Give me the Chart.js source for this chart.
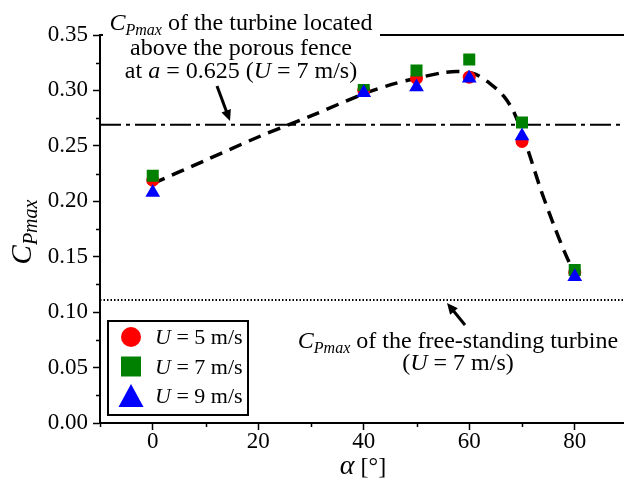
<!DOCTYPE html>
<html>
<head>
<meta charset="utf-8">
<script src="https://cdn.jsdelivr.net/npm/chart.js@4.4.1/dist/chart.umd.min.js"></script>
<style>
  html, body { margin: 0; padding: 0; background: #fff; overflow: hidden; }
  canvas { display: block; }
</style>
</head>
<body>
<canvas id="chart" width="636" height="489"></canvas>
<script>
// measured points
const alphaDeg = [0, 40, 50, 60, 70, 80];
const cpU5 = [0.219, 0.300, 0.311, 0.312, 0.254, 0.136];
const cpU7 = [0.223, 0.305, 0.318, 0.328, 0.271, 0.138];
const cpU9 = [0.208, 0.298, 0.303, 0.311, 0.259, 0.132];
// dashed fitted curve
const fitAlpha = [0, 10, 20, 30, 40, 45, 50, 55, 58, 61, 64, 66.5, 68.5, 71, 73.6, 76, 78, 80];
const fitCp = [0.216, 0.237, 0.258, 0.277, 0.297, 0.305, 0.311, 0.316, 0.317, 0.315, 0.306, 0.295, 0.280, 0.248, 0.210, 0.179, 0.155, 0.134];
// reference levels
const cpFence = 0.269;
const cpFree = 0.111;
const xTicks = [0, 20, 40, 60, 80];
const xMinor = [-10, 10, 30, 50, 70, 90];
const yTicks = [0, 0.05, 0.10, 0.15, 0.20, 0.25, 0.30, 0.35];
const yMinor = [0.025, 0.075, 0.125, 0.175, 0.225, 0.275, 0.325];
const legendLabels = ['5', '7', '9'];

const SERIF = "'Liberation Serif', 'DejaVu Serif', serif";

function pts(xs, ys) {
  return xs.map((x, i) => ({ x: x, y: ys[i] }));
}

// draw a line of text made of runs [text, font, dy], centred on cx
function drawRuns(ctx, runs, cx, y, align) {
  let w = 0;
  runs.forEach(r => { ctx.font = r[1]; w += ctx.measureText(r[0]).width; });
  let x = align === 'left' ? cx : cx - w / 2;
  ctx.textAlign = 'left';
  ctx.textBaseline = 'alphabetic';
  runs.forEach(r => {
    ctx.font = r[1];
    ctx.fillText(r[0], x, y + (r[2] || 0));
    x += ctx.measureText(r[0]).width;
  });
  return w;
}

function arrow(ctx, x1, y1, x2, y2) {
  const a = Math.atan2(y2 - y1, x2 - x1);
  const hl = 11, hw = 5;
  ctx.beginPath();
  ctx.moveTo(x1, y1);
  ctx.lineTo(x2 - Math.cos(a) * hl * 0.8, y2 - Math.sin(a) * hl * 0.8);
  ctx.lineWidth = 3;
  ctx.strokeStyle = '#000';
  ctx.stroke();
  ctx.beginPath();
  ctx.moveTo(x2, y2);
  ctx.lineTo(x2 - Math.cos(a) * hl - Math.sin(a) * hw, y2 - Math.sin(a) * hl + Math.cos(a) * hw);
  ctx.lineTo(x2 - Math.cos(a) * hl + Math.sin(a) * hw, y2 - Math.sin(a) * hl - Math.cos(a) * hw);
  ctx.closePath();
  ctx.fillStyle = '#000';
  ctx.fill();
}

function legendMarker(ctx, style, color, x, y) {
  ctx.fillStyle = color;
  ctx.beginPath();
  if (style === 'circle') {
    ctx.arc(x, y, 10, 0, Math.PI * 2);
  } else if (style === 'rect') {
    ctx.rect(x - 10, y - 10, 20, 20);
  } else {
    ctx.moveTo(x, y - 12);
    ctx.lineTo(x + 12.5, y + 11);
    ctx.lineTo(x - 12.5, y + 11);
    ctx.closePath();
  }
  ctx.fill();
}

const extras = {
  id: 'extras',
  afterDraw(chart) {
    const ctx = chart.ctx;
    const a = chart.chartArea;
    const xs = chart.scales.x, ys = chart.scales.y;
    const it = 'italic 24px ' + SERIF, rg = '24px ' + SERIF, sub = 'italic 16px ' + SERIF;
    ctx.save();
    // top frame
    ctx.strokeStyle = '#000';
    ctx.lineWidth = 2;
    ctx.beginPath();
    ctx.moveTo(a.left, a.top);
    ctx.lineTo(a.right, a.top);
    ctx.stroke();
    // minor ticks
    ctx.lineWidth = 1.5;
    ctx.beginPath();
    yMinor.forEach(v => {
      const p = Math.round(ys.getPixelForValue(v)) + 0.5;
      ctx.moveTo(a.left, p); ctx.lineTo(a.left - 4, p);
    });
    xMinor.forEach(v => {
      const p = Math.round(xs.getPixelForValue(v)) + 0.5;
      ctx.moveTo(p, a.bottom); ctx.lineTo(p, a.bottom + 4);
    });
    ctx.stroke();

    // annotation for the fence turbine
    ctx.fillStyle = '#fff';
    ctx.fillRect(a.left + 3, 8, 277, 76);
    ctx.fillStyle = '#000';
    drawRuns(ctx, [['C', it], ['Pmax', sub, 5], [' of the turbine located', rg]], 241, 30);
    drawRuns(ctx, [['above the porous fence', rg]], 241, 55);
    drawRuns(ctx, [['at ', rg], ['a', it], [' = 0.625 (', rg], ['U', it], [' = 7 m/s)', rg]], 241, 78);
    arrow(ctx, 217, 86, 230, 121);

    // annotation for the free-standing turbine
    ctx.fillStyle = '#000';
    drawRuns(ctx, [['C', it], ['Pmax', sub, 5], [' of the free-standing turbine', rg]], 458, 348);
    drawRuns(ctx, [['(', rg], ['U', it], [' = 7 m/s)', rg]], 458, 370);
    arrow(ctx, 465, 325, 447, 303);

    // legend box
    ctx.fillStyle = '#fff';
    ctx.fillRect(108, 321, 140, 94);
    ctx.strokeStyle = '#000';
    ctx.lineWidth = 2;
    ctx.strokeRect(108, 321, 140, 94);
    const lit = 'italic 22px ' + SERIF, lrg = '22px ' + SERIF;
    [0, 1, 2].forEach(i => {
      const ds = chart.data.datasets[i];
      const cy = 337 + i * 29.5;
      legendMarker(ctx, ds.pointStyle, ds.backgroundColor, 131, cy);
      ctx.fillStyle = '#000';
      drawRuns(ctx, [['U', lit], [' = ' + legendLabels[i] + ' m/s', lrg]], 155, cy + 7, 'left');
    });

    // axis titles
    ctx.fillStyle = '#000';
    drawRuns(ctx, [['\u03b1', 'italic 28px ' + SERIF], [' [\u00b0]', '24px ' + SERIF]], 363, 474);
    ctx.translate(31, 232);
    ctx.rotate(-Math.PI / 2);
    drawRuns(ctx, [['C', 'italic 29px ' + SERIF], ['Pmax', 'italic 20px ' + SERIF, 6]], 0, 0);
    ctx.restore();
  }
};

const ctx = document.getElementById('chart').getContext('2d');
new Chart(ctx, {
  type: 'scatter',
  data: {
    datasets: [
      { label: 'U = 5 m/s', data: pts(alphaDeg, cpU5), pointStyle: 'circle', pointRadius: 6.5,
        backgroundColor: '#ff0000', borderColor: '#ff0000', borderWidth: 0, order: 3 },
      { label: 'U = 7 m/s', data: pts(alphaDeg, cpU7), pointStyle: 'rect', pointRadius: 8.5,
        backgroundColor: '#008000', borderColor: '#008000', borderWidth: 0, order: 2 },
      { label: 'U = 9 m/s', data: pts(alphaDeg, cpU9), pointStyle: 'triangle', pointRadius: 8.5,
        backgroundColor: '#0000ff', borderColor: '#0000ff', borderWidth: 0, order: 1 },
      { type: 'line', label: 'fit', data: pts(fitAlpha, fitCp), showLine: true, pointRadius: 0,
        borderColor: '#000', borderWidth: 3.5, borderDash: [13, 8], tension: 0.3,
        fill: false, order: 4 },
      { type: 'line', label: 'fence', data: [{ x: -10, y: cpFence }, { x: 90, y: cpFence }], pointRadius: 0,
        borderColor: '#000', borderWidth: 2, borderDash: [21, 5, 4, 5], fill: false, order: 5 },
      { type: 'line', label: 'free', data: [{ x: -10, y: cpFree }, { x: 90, y: cpFree }], pointRadius: 0,
        borderColor: '#000', borderWidth: 2, borderDash: [1.5, 2], fill: false, order: 6 }
    ]
  },
  options: {
    responsive: false,
    animation: false,
    layout: { padding: { left: 0, top: 35, right: 3, bottom: 0 } },
    plugins: { legend: { display: false }, tooltip: { enabled: false } },
    scales: {
      x: {
        type: 'linear', min: -10, max: 90,
        afterBuildTicks: s => { s.ticks = xTicks.map(v => ({ value: v })); },
        afterFit: s => { s.height = 66; },
        grid: { display: true, drawOnChartArea: false, tickLength: 7, tickColor: '#000', tickWidth: 1.5 },
        border: { display: true, color: '#000', width: 2 },
        ticks: { color: '#000', font: { family: SERIF, size: 23 }, padding: -2, maxRotation: 0 }
      },
      y: {
        type: 'linear', min: 0, max: 0.35,
        afterBuildTicks: s => { s.ticks = yTicks.map(v => ({ value: v })); },
        afterFit: s => { s.width = 100; },
        grid: { display: true, drawOnChartArea: false, tickLength: 7, tickColor: '#000', tickWidth: 1.5 },
        border: { display: true, color: '#000', width: 2 },
        ticks: { color: '#000', font: { family: SERIF, size: 23 }, padding: 5,
          callback: v => v.toFixed(2) }
      }
    }
  },
  plugins: [extras]
});
</script>
</body>
</html>
